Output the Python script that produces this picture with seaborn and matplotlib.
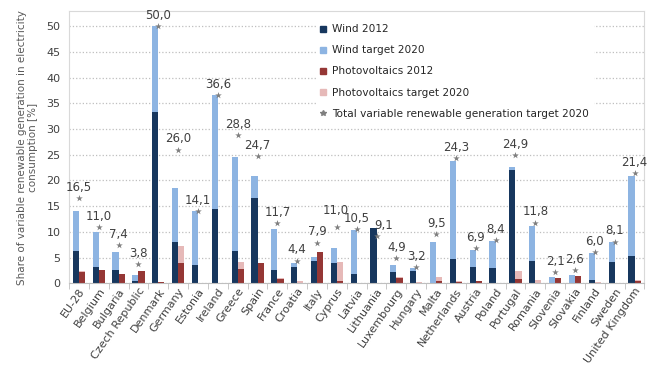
import pandas as pd
import numpy as np
import matplotlib
matplotlib.use('Agg')
import matplotlib.pyplot as plt
import seaborn as sns
from matplotlib.lines import Line2D

# Values (% of electricity consumption)
countries = ['EU-28', 'Belgium', 'Bulgaria', 'Czech Republic', 'Denmark', 'Germany',
             'Estonia', 'Ireland', 'Greece', 'Spain', 'France', 'Croatia', 'Italy',
             'Cyprus', 'Latvia', 'Lithuania', 'Luxembourg', 'Hungary', 'Malta',
             'Netherlands', 'Austria', 'Poland', 'Portugal', 'Romania', 'Slovenia',
             'Slovakia', 'Finland', 'Sweden', 'United Kingdom']
wind_2012 = [6.2, 3.2, 2.5, 0.45, 33.4, 8.0, 3.6, 14.5, 6.2, 16.6, 2.5, 3.1, 4.4, 3.9,
             1.75, 10.7, 2.1, 2.3, 0.0, 4.8, 3.2, 2.9, 22.1, 4.4, 0.0, 0.0, 0.65, 4.2, 5.3]
wind_target = [14.1, 9.9, 6.0, 1.6, 50.0, 18.5, 14.1, 36.6, 24.5, 20.8, 10.6, 4.0, 5.2, 6.8,
               10.4, 9.0, 3.6, 3.05, 8.0, 23.8, 6.5, 8.3, 22.6, 11.2, 1.2, 1.6, 5.85, 8.0, 20.8]
pv_2012 = [2.1, 2.6, 1.75, 2.4, 0.3, 4.0, 0.0, 0.0, 2.7, 3.9, 0.9, 0.1, 6.1, 0.45,
           0.05, 0.1, 1.1, 0.05, 0.45, 0.3, 0.45, 0.0, 0.9, 0.1, 1.0, 1.5, 0.05, 0.05, 0.45]
pv_target = [2.4, 1.1, 1.4, 2.2, 0.0, 7.3, 0.0, 0.0, 4.2, 3.9, 1.1, 0.4, 2.6, 4.1,
             0.1, 0.1, 1.3, 0.15, 1.3, 0.5, 0.4, 0.1, 2.3, 0.6, 0.9, 1.0, 0.15, 0.1, 0.6]
total_target = [16.5, 11.0, 7.4, 3.8, 50.0, 26.0, 14.1, 36.6, 28.8, 24.7, 11.7, 4.4, 7.9,
                11.0, 10.5, 9.1, 4.9, 3.2, 9.5, 24.3, 6.9, 8.4, 24.9, 11.8, 2.1, 2.6, 6.0, 8.1, 21.4]

c_wind, c_wind_t = '#17375E', '#8DB4E2'
c_pv, c_pv_t = '#953735', '#E6B9B8'
c_mark = '#7F7F7F'

# Long tables: one for the 2020 targets (drawn behind), one for 2012 (drawn in front)
kinds = ['Wind'] * len(countries) + ['PV'] * len(countries)
targets = pd.DataFrame({'Country': countries * 2, 'Kind': kinds,
                        'Value': wind_target + pv_target})
actual = pd.DataFrame({'Country': countries * 2, 'Kind': kinds,
                       'Value': wind_2012 + pv_2012})

sns.set_style('white')
plt.rcParams['font.family'] = ['DejaVu Sans']

fig = plt.figure(figsize=(6.48, 3.65), dpi=100)
ax = fig.add_axes([0.1065, 0.224, 0.888, 0.746])

sns.barplot(data=targets, x='Country', y='Value', hue='Kind', hue_order=['Wind', 'PV'],
            palette={'Wind': c_wind_t, 'PV': c_pv_t}, order=countries, width=0.62,
            saturation=1, legend=False, errorbar=None, linewidth=0, ax=ax)
sns.barplot(data=actual, x='Country', y='Value', hue='Kind', hue_order=['Wind', 'PV'],
            palette={'Wind': c_wind, 'PV': c_pv}, order=countries, width=0.62,
            saturation=1, legend=False, errorbar=None, linewidth=0, ax=ax)
sns.stripplot(x=countries, y=total_target, order=countries, marker='*', color=c_mark,
              size=5, jitter=False, ax=ax, zorder=5)

# Value labels for the total target (a couple nudged as in the original)
nudge = {'Cyprus': (-1, 7), 'Lithuania': (5, 3)}
for name, v in zip(countries, total_target):
    ax.annotate(f'{v:.1f}'.replace('.', ','), (countries.index(name), v),
                xytext=nudge.get(name, (0, 3)), textcoords='offset points',
                ha='center', va='bottom', fontsize=8.5, color='#404040')

ax.set_xlim(-0.5, len(countries) - 0.5)
ax.set_ylim(0, 53)
ax.set_yticks(np.arange(0, 51, 5))
ax.yaxis.grid(True, linestyle=':', color='#BFBFBF', linewidth=0.9)
ax.set_axisbelow(True)

ax.set_xlabel('')
ax.set_ylabel('Share of variable renewable generation in electricity\nconsumption [%]',
              fontsize=7.5, color='#595959', labelpad=6)
ax.tick_params(axis='y', labelsize=8, colors='#404040', length=0, pad=6)
ax.tick_params(axis='x', which='major', length=0, labelsize=8, labelcolor='#404040', pad=2)
ax.set_xticks(range(len(countries)))
ax.set_xticklabels(countries, rotation=55, ha='right', rotation_mode='anchor')
ax.set_xticks(np.arange(-0.5, len(countries), 1), minor=True)
ax.tick_params(axis='x', which='minor', length=4, color='#BFBFBF', bottom=True)

for side in ['left', 'top', 'right']:
    ax.spines[side].set_color('#D9D9D9')
ax.spines['bottom'].set_color('#BFBFBF')

handles = [
    Line2D([], [], marker='s', linestyle='none', markersize=4, color=c_wind),
    Line2D([], [], marker='s', linestyle='none', markersize=4, color=c_wind_t),
    Line2D([], [], marker='s', linestyle='none', markersize=4, color=c_pv),
    Line2D([], [], marker='s', linestyle='none', markersize=4, color=c_pv_t),
    Line2D([], [], marker='*', linestyle='none', markersize=4, color=c_mark),
]
labels = ['Wind 2012', 'Wind target 2020', 'Photovoltaics 2012',
          'Photovoltaics target 2020', 'Total variable renewable generation target 2020']
leg = fig.legend(handles, labels, loc='upper left', bbox_to_anchor=(0.487, 0.945),
                 fontsize=7.6, frameon=True, facecolor='white', edgecolor='none',
                 framealpha=1, handlelength=0.6, handletextpad=0.6, labelspacing=1.05,
                 borderpad=0.4, borderaxespad=0)
for t in leg.get_texts():
    t.set_color('#262626')

fig.savefig('out.png', dpi=100)
